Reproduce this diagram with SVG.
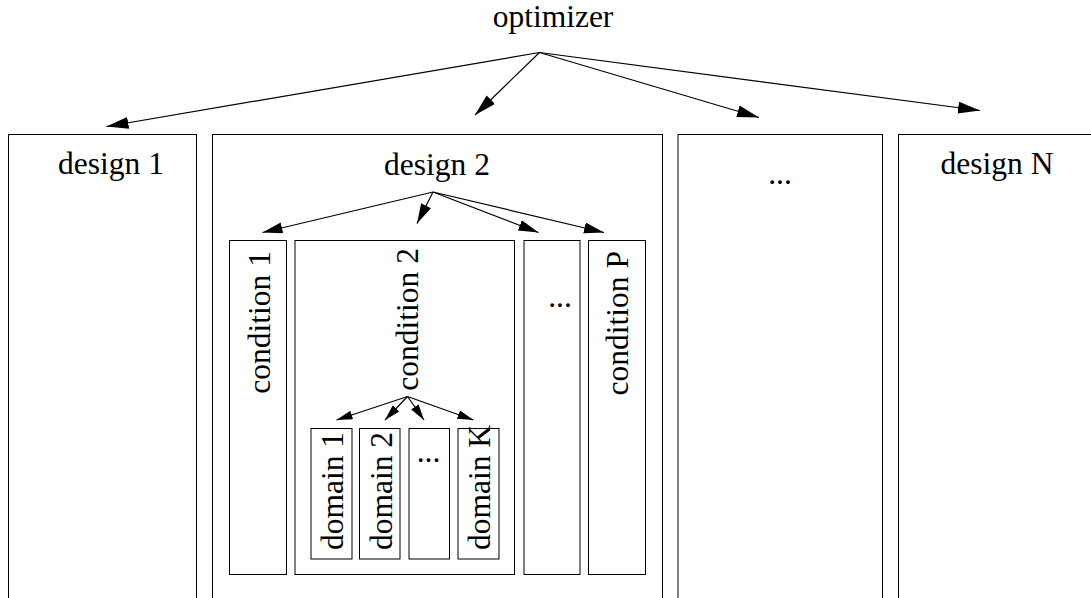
<svg xmlns="http://www.w3.org/2000/svg" width="1091" height="598" viewBox="0 0 1091 598">
<style>
  .box { fill: #ffffff; stroke: #000000; stroke-width: 1; }
  .lbl { font-family: "Liberation Serif", "Times New Roman", serif; font-size: 31.5px; fill: #000000; }
  .c { text-anchor: middle; }
  .edge { stroke: #000000; stroke-width: 1.2; fill: none; }
  .big { marker-end: url(#ahBig); }
  .mid { marker-end: url(#ahMid); }
  .small { marker-end: url(#ahSmall); }
</style>
<defs>
  <marker id="ahBig" markerUnits="userSpaceOnUse" markerWidth="24" markerHeight="14" refX="22" refY="6" orient="auto">
    <path d="M0,0 L22,6 L0,12 z" fill="#000000"/>
  </marker>
  <marker id="ahMid" markerUnits="userSpaceOnUse" markerWidth="22" markerHeight="14" refX="20" refY="5.5" orient="auto">
    <path d="M0,0 L20,5.5 L0,11 z" fill="#000000"/>
  </marker>
  <marker id="ahSmall" markerUnits="userSpaceOnUse" markerWidth="18" markerHeight="12" refX="16" refY="4.5" orient="auto">
    <path d="M0,0 L16,4.5 L0,9 z" fill="#000000"/>
  </marker>
</defs>
<rect x="0" y="0" width="1091" height="598" fill="#ffffff"/>

<g id="optimizer">
  <text class="lbl c" x="553" y="27">optimizer</text>
</g>

<g id="design1">
  <rect class="box" x="8.5" y="134.5" width="188" height="480"/>
  <text class="lbl c" x="111" y="174">design 1</text>
</g>

<g id="design2">
  <rect class="box" x="212.5" y="134.5" width="450" height="480"/>
  <text class="lbl c" x="437" y="175">design 2</text>
</g>

<g id="design_more">
  <rect class="box" x="678" y="134.5" width="204.5" height="480"/>
  <text class="lbl c" x="780" y="184">...</text>
</g>

<g id="designN">
  <rect class="box" x="898.5" y="134.5" width="220" height="480"/>
  <text class="lbl c" x="997" y="174">design N</text>
</g>

<g id="condition1">
  <rect class="box" x="229.5" y="240.5" width="57" height="334"/>
  <text class="lbl" transform="translate(270,251) rotate(-90)" text-anchor="end">condition 1</text>
</g>

<g id="condition2">
  <rect class="box" x="295" y="240.5" width="219.5" height="334"/>
  <text class="lbl" transform="translate(418,248) rotate(-90)" text-anchor="end">condition 2</text>
</g>

<g id="condition_more">
  <rect class="box" x="524" y="240.5" width="56" height="334"/>
  <text class="lbl c" x="560" y="307">...</text>
</g>

<g id="conditionP">
  <rect class="box" x="588.5" y="240.5" width="57" height="334"/>
  <text class="lbl" transform="translate(628,251) rotate(-90)" text-anchor="end">condition P</text>
</g>

<g id="domain1">
  <rect class="box" x="311" y="428.5" width="41" height="130.5"/>
  <text class="lbl" transform="translate(343,550) rotate(-90)">domain 1</text>
</g>

<g id="domain2">
  <rect class="box" x="359.5" y="428.5" width="40.5" height="130.5"/>
  <text class="lbl" transform="translate(391.5,550) rotate(-90)">domain 2</text>
</g>

<g id="domain_more">
  <rect class="box" x="409" y="428.5" width="40.5" height="130.5"/>
  <text class="lbl c" x="428.5" y="462">...</text>
</g>

<g id="domainK">
  <rect class="box" x="458" y="428.5" width="41" height="130.5"/>
  <text class="lbl" transform="translate(490,550) rotate(-90)">domain K</text>
</g>

<g id="connectors">
  <line class="edge big" x1="539.5" y1="52.5" x2="106.5" y2="126.5"/>
  <line class="edge big" x1="539.5" y1="52.5" x2="475" y2="115"/>
  <line class="edge big" x1="539.5" y1="52.5" x2="759" y2="117.5"/>
  <line class="edge big" x1="539.5" y1="52.5" x2="980" y2="110.5"/>

  <line class="edge mid" x1="433" y1="192" x2="262.5" y2="232.5"/>
  <line class="edge mid" x1="433" y1="192" x2="417" y2="223.5"/>
  <line class="edge mid" x1="433" y1="192" x2="538.5" y2="232.5"/>
  <line class="edge mid" x1="433" y1="192" x2="604" y2="232.5"/>

  <line class="edge small" x1="407.5" y1="396.5" x2="336.5" y2="420"/>
  <line class="edge small" x1="407.5" y1="396.5" x2="385" y2="420"/>
  <line class="edge small" x1="407.5" y1="396.5" x2="424" y2="420"/>
  <line class="edge small" x1="407.5" y1="396.5" x2="473.5" y2="420"/>
</g>
</svg>
